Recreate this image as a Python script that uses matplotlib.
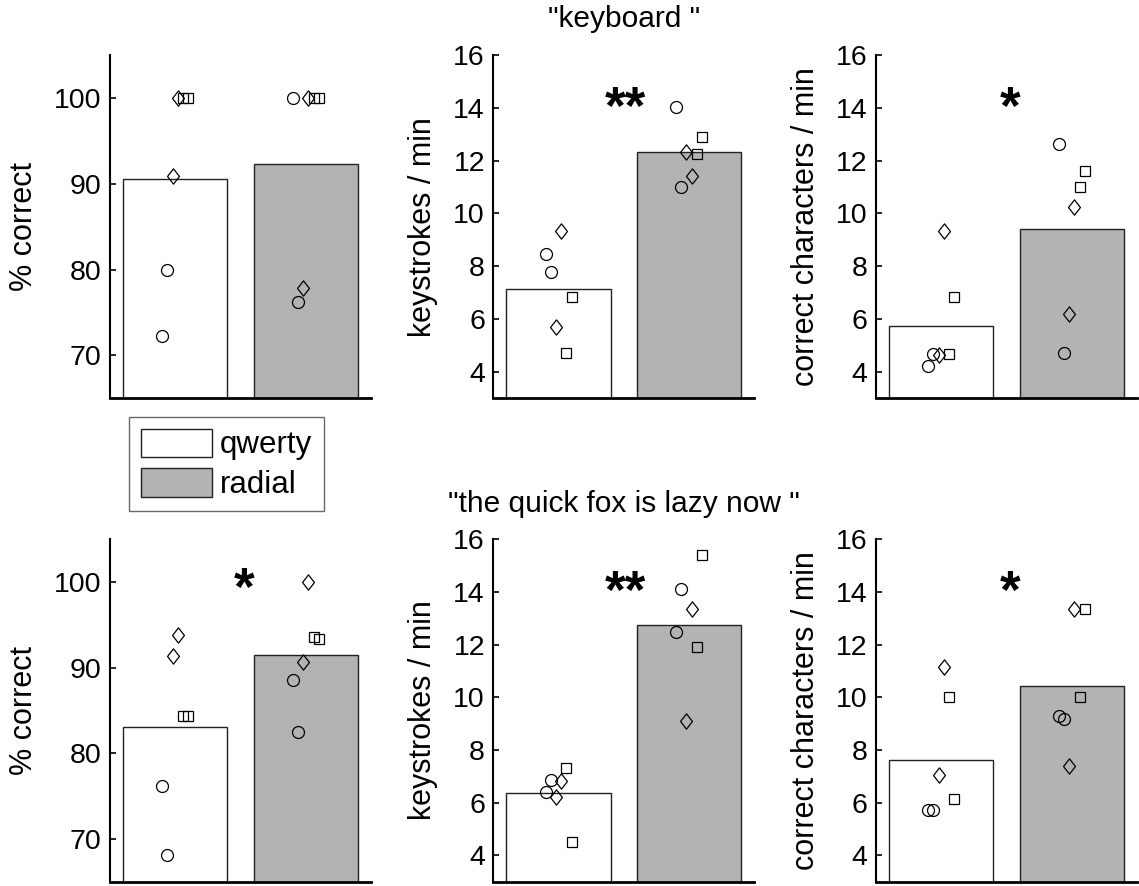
import numpy as np
import matplotlib
matplotlib.use("Agg")
import matplotlib.pyplot as plt
from matplotlib.path import Path

plt.rcParams['font.family'] = ['Liberation Sans', 'DejaVu Sans']

# ---------------- data (6 subjects; markers: circle, circle, diamond, diamond, square, square)
conditions = ["qwerty", "radial"]
titles = ['"keyboard "', '"the quick fox is lazy now "']
ylabels = ["% correct", "keystrokes / min", "correct characters / min"]

# top row: "keyboard "
kb_pct_qwerty = [72.3, 80.0, 90.9, 100.0, 100.0, 100.0]
kb_pct_radial = [100.0, 76.2, 77.8, 100.0, 100.0, 100.0]
kb_ks_qwerty = [8.47, 7.77, 5.69, 9.33, 4.70, 6.85]
kb_ks_radial = [14.04, 11.01, 12.34, 11.42, 12.25, 12.88]
kb_cc_qwerty = [4.22, 4.67, 4.65, 9.32, 4.67, 6.85]
kb_cc_radial = [12.63, 4.73, 6.19, 10.26, 11.01, 11.61]

# bottom row: "the quick fox is lazy now "
fox_pct_qwerty = [76.2, 68.1, 91.4, 93.8, 84.3, 84.3]
fox_pct_radial = [88.55, 82.5, 90.7, 100.0, 93.6, 93.4]
fox_ks_qwerty = [6.40, 6.87, 6.22, 6.81, 7.30, 4.50]
fox_ks_radial = [12.47, 14.12, 9.11, 13.35, 11.92, 15.40]
fox_cc_qwerty = [5.73, 5.73, 7.04, 11.13, 10.00, 6.15]
fox_cc_radial = [9.27, 9.17, 7.38, 13.36, 10.00, 13.35]

significance = [["", "**", "*"], ["*", "**", "*"]]

# ---------------- styling
W, H = 1139, 886
fig = plt.figure(figsize=(W / 100, H / 100), dpi=100)

bar_colors = ["white", "#b3b3b3"]
diamond = Path([(0, 1), (0.78, 0), (0, -1), (-0.78, 0), (0, 1)],
               [Path.MOVETO, Path.LINETO, Path.LINETO, Path.LINETO, Path.CLOSEPOLY])
subject_markers = ["o", "o", diamond, diamond, "s", "s"]
subject_msize = [8.6, 8.6, 11, 11, 7.6, 7.6]
offsets = np.linspace(-0.1, 0.1, 6)

rows = [
    [(kb_pct_qwerty, kb_pct_radial), (kb_ks_qwerty, kb_ks_radial), (kb_cc_qwerty, kb_cc_radial)],
    [(fox_pct_qwerty, fox_pct_radial), (fox_ks_qwerty, fox_ks_radial), (fox_cc_qwerty, fox_cc_radial)],
]

col_left = [110, 493.3, 876]
col_w = 261
row_top = [55, 539.3]
row_bot = [398.3, 881.5]

ylims = [(65, 105), (3, 16), (3, 16)]
yticks = [[70, 80, 90, 100], [4, 6, 8, 10, 12, 14, 16], [4, 6, 8, 10, 12, 14, 16]]
star_pos = [(1.53, 100.4), (1.515, 14.4), (1.53, 14.4)]
star_fs = 38

bars_handles = None
for r in range(2):
    for c in range(3):
        ax = fig.add_axes([col_left[c] / W, 1 - row_bot[r] / H,
                           col_w / W, (row_bot[r] - row_top[r]) / H])
        q, rad = rows[r][c]
        means = [np.mean(q), np.mean(rad)]
        xs = np.arange(1, 3)
        bars = ax.bar(xs, means, width=0.8, color=bar_colors,
                      edgecolor="#222222", linewidth=1.0, zorder=1)
        if bars_handles is None:
            bars_handles = bars
        for xi, vals in zip(xs, (q, rad)):
            for k, v in enumerate(vals):
                ax.plot(xi + offsets[k], v, marker=subject_markers[k],
                        markersize=subject_msize[k], markerfacecolor="none",
                        markeredgecolor="black", markeredgewidth=0.9,
                        linestyle="none", zorder=3)
        ax.set_xlim(0.5, 2.5)
        ax.set_ylim(*ylims[c])
        ax.set_yticks(yticks[c])
        ax.set_xticks([])
        for s in ["top", "right"]:
            ax.spines[s].set_visible(False)
        ax.spines["left"].set_linewidth(1.5)
        ax.spines["bottom"].set_linewidth(2.0)
        ax.tick_params(axis="y", direction="in", length=4, width=1.2,
                       labelsize=20.5, pad=6)
        ax.set_ylabel(ylabels[c], fontsize=22, labelpad=11)
        sig = significance[r][c]
        if sig:
            ax.annotate(sig, xy=star_pos[c], xytext=(0, -0.5 * star_fs),
                        textcoords="offset points", ha="center", va="baseline",
                        fontsize=star_fs, fontweight="bold")
        if c == 1:
            ax.set_title(titles[r], fontsize=21.5, pad=20)
        ax.patch.set_alpha(0)

leg = fig.legend(bars_handles, conditions, loc="upper left",
                 bbox_to_anchor=(129.3 / W, 1 - 417.3 / H), borderaxespad=0,
                 fontsize=22.5, frameon=True, fancybox=False,
                 handlelength=2.3, handleheight=1.02, handletextpad=0.25,
                 labelspacing=0.25, borderpad=0.36)
leg.get_frame().set_edgecolor("#444444")
leg.get_frame().set_linewidth(1.0)

fig.savefig("out.png", dpi=100)
